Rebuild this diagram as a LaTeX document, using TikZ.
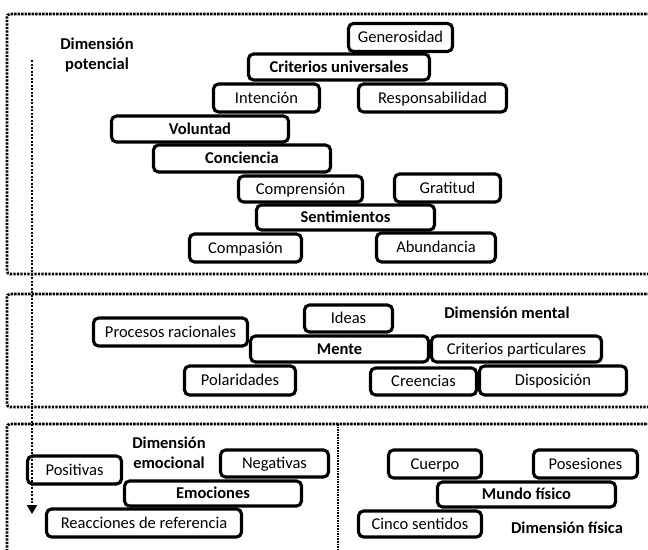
\documentclass[tikz,border=0pt]{standalone}
\usepackage{fontspec}
\setmainfont{Carlito}
\usetikzlibrary{arrows.meta}
\tikzset{
  box/.style={draw, line width=3.1pt, rounded corners=5pt, fill=white, inner sep=0pt,
    text height=12pt, text depth=2pt,
    font=\fontsize{16.5}{18}\selectfont},
  boxb/.style={box, font=\fontsize{16.5}{18}\selectfont\bfseries},
  dimlabel/.style={align=center, inner sep=0pt, font=\fontsize{16.5}{20}\selectfont\bfseries},
  frame/.style={line width=2.7pt, dash pattern=on 2.3pt off 1.2pt, rounded corners=3pt},
  thinframe/.style={line width=1.8pt, dash pattern=on 1.6pt off 1pt},
}
\newcommand{\bx}[6]{\node[#1, minimum width=#4pt, minimum height=#5pt] (#2) at (#3) {#6};}
\begin{document}
\begin{tikzpicture}[x=1pt, y=-1pt]
\useasboundingbox (0,0) rectangle (648,549);
% frames
\draw[frame] (650,14) -- (7,14) -- (7,274) -- (650,274);
\draw[frame] (650,294) -- (7,294) -- (7,407) -- (650,407);
\draw[frame] (650,424) -- (7,424) -- (7,551);
\draw[thinframe] (338,424) -- (338,551);
% top section
\bx{box}{gen}{400.5,37.5}{104}{28}{Generosidad}
\bx{boxb}{cu}{339,67}{181}{26}{Criterios universales}
\bx{box}{int}{266.5,98}{106}{28}{Intención}
\bx{box}{resp}{432.5,98}{148}{28}{Responsabilidad}
\bx{boxb}{vol}{200,129}{177}{26}{Voluntad}
\bx{boxb}{conc}{242,158.5}{177}{27}{Conciencia}
\bx{box}{comp}{300.5,189}{124}{26}{Comprensión}
\bx{box}{grat}{447.5,188}{106}{28}{Gratitud}
\bx{boxb}{sent}{345.5,217.5}{178}{25}{Sentimientos}
\bx{box}{compa}{245.5,248}{112}{28}{Compasión}
\bx{box}{abun}{436,247.5}{119}{29}{Abundancia}
\node[dimlabel] (dpot) at (97,55) {Dimensión\\potencial};
% middle section
\bx{box}{proc}{170.5,332}{154}{28}{Procesos racionales}
\bx{box}{ideas}{348.5,318.5}{88}{27}{Ideas}
\bx{boxb}{mente}{339.5,349}{178}{26}{Mente}
\bx{box}{crit}{516.5,349}{170}{26}{Criterios particulares}
\bx{box}{pol}{240,380.5}{111}{29}{Polaridades}
\bx{box}{cree}{423.5,381.5}{106}{27}{Creencias}
\bx{box}{disp}{553,380.5}{147}{29}{Disposición}
\node[dimlabel] (dment) at (507,313) {Dimensión mental};
% bottom left
\bx{box}{pos}{74.5,470}{94}{28}{Positivas}
\bx{box}{neg}{274.5,463.5}{108}{27}{Negativas}
\bx{boxb}{emo}{213,493.5}{177}{25}{Emociones}
\bx{box}{reac}{144,523}{195}{28}{Reacciones de referencia}
\node[dimlabel] (demo) at (169,452.5) {Dimensión\\emocional};
% bottom right
\bx{box}{cuer}{435,464}{93}{28}{Cuerpo}
\bx{box}{poses}{585.5,464}{104}{28}{Posesiones}
\bx{boxb}{mundo}{526.5,494.5}{178}{25}{Mundo físico}
\bx{box}{cinco}{420,524}{123}{26}{Cinco sentidos}
\node[dimlabel] (dfis) at (567,528) {Dimensión física};
% arrow
\coordinate (astart) at (32,60);
\coordinate (aend) at (32,514);
\draw[line width=2.7pt, dash pattern=on 2.3pt off 1.2pt, -{Triangle[width=10pt,length=9pt]}] (astart) -- (aend);
\end{tikzpicture}
\end{document}
